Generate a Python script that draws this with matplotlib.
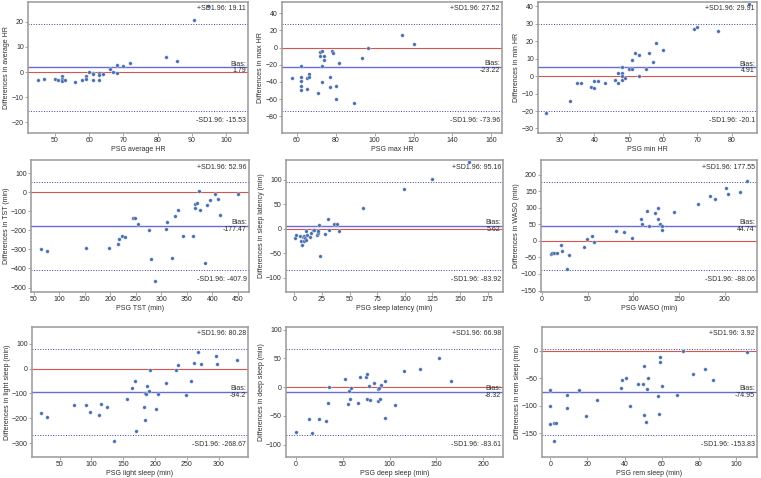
import numpy as np
import matplotlib
matplotlib.use('Agg')
import matplotlib.pyplot as plt

# Bland-Altman style panels: PSG value on x, difference on y
names = ['average HR', 'max HR', 'min HR',
         'TST (min)', 'sleep latency (min)', 'WASO (min)',
         'light sleep (min)', 'deep sleep (min)', 'rem sleep (min)']

bias = [1.79, -23.22, 4.91, -177.47, 5.62, 44.74, -94.2, -8.32, -74.95]
upper = [19.11, 27.52, 29.91, 52.96, 95.16, 177.55, 80.28, 66.98, 3.92]
lower = [-15.53, -73.96, -20.1, -407.9, -83.92, -88.06, -268.67, -83.61, -153.83]

avg_hr_x = [45, 47, 50, 51, 52, 52, 52, 53, 56, 58, 59, 59, 60, 61, 61, 61, 63, 63, 63, 64,
            66, 67, 68, 68, 70, 72, 82.5, 85.5, 90.5, 94.5]
avg_hr_y = [-3.2, -2.6, -2.6, -3.0, -1.5, -2.8, -3.7, -3.3, -4.1, -3.3, -1.5, -2.8, 0, -0.4, -0.9, -3.3,
            -0.4, -1.3, -3.0, -0.7, 1.3, 0.1, 2.9, -0.4, 2.4, 3.4, 6.1, 4.5, 20.7, 26.0]

max_hr_x = [57.3, 62, 62, 62, 62, 62, 65, 65, 66, 66, 70.8, 72, 72, 73, 73, 73, 73.7, 73.7, 76.8, 76.8,
            77.8, 78.7, 80, 80, 81.8, 89.5, 93.3, 96.5, 114, 120]
max_hr_y = [-35.9, -22.0, -34.7, -39.0, -44.8, -49.4, -35.9, -47.9, -30.9, -34.7, -52.9, -5.4, -10.0,
            -4.6, -22.0, -39.8, -9.7, -14.3, -34.0, -45.9, -4.6, -5.8, -44.8, -59.5, -17.8, -64.9,
            -12.7, 0, 14.3, 4.2]

min_hr_x = [26, 33, 35, 36, 39, 40, 40, 41, 43, 46, 47, 47, 48, 48, 48, 48, 49, 50, 51, 51,
            52, 53, 53, 55, 56, 57, 58, 60, 69, 70, 76, 85]
min_hr_y = [-21, -14, -4, -4, -6, -3, -7, -3, -4, -2, 2, -4, 5, 2, 0, -2, -1, 4, 9, 4,
            13, 12, 0, 4, 13, 8, 19, 15, 27, 28, 26, 41]

tst_x = [64, 76, 153, 197, 216, 217, 223, 229, 245, 249, 255, 277, 280, 287, 309, 312, 322, 328,
         333, 343, 363, 366, 367, 371, 375, 376, 385, 389, 395, 405, 412, 415, 450]
tst_y = [-297, -309, -292, -295, -270, -244, -231, -237, -133, -138, -166, -196, -352, -463, -193,
         -157, -346, -127, -92, -230, -228, -60, -81, -57, 4, -92, -371, -65, -41, -9, -34, -118, -11]

lat_x = [0.9, 1.8, 4.8, 6.0, 6.6, 7.5, 8.4, 8.4, 9.3, 10.2, 10.2, 11.1, 13.8, 15.0, 16.5, 17.4,
         20.1, 21.0, 21.3, 22.2, 23.5, 27.4, 30.7, 31.6, 36.1, 38.2, 40.0, 62.5, 99.5, 125, 158]
lat_y = [-19.1, -13.6, -15.0, -25.2, -32.1, -17.1, -15.7, -25.2, -19.1, -4.1, -22.5, -13.0, -17.1,
         -8.9, -2.0, -3.4, -13.0, -8.9, -5.5, 6.8, -55.9, -11.6, 19.8, -2.0, 9.5, 9.5, -4.1, 43.0,
         81.9, 101.6, 135]

waso_x = [9.4, 11.3, 13.1, 16.3, 21.4, 22.1, 26.9, 29.4, 45.7, 49.0, 55.2, 57.4, 80.6, 89.3, 98.7,
          108.5, 108.9, 115.1, 117.6, 123.4, 127.4, 127.4, 129.2, 131.4, 131.4, 144.5, 170.2, 183.3,
          189.5, 201.5, 203.3, 216.3, 224.3]
waso_y = [-39.5, -35.5, -37.5, -37.5, -13.2, -30.4, -85.1, -41.5, -19.3, 4.1, 13.2, -3.0, 29.4, 25.3,
          9.1, 65.9, 51.7, 89.2, 45.6, 84.1, 98.3, 65.9, 50.7, 45.6, 33.4, 88.1, 110.4, 135.8, 126.6,
          158.1, 141.8, 146.9, 181.4]

light_x = [20.8, 30.7, 73.0, 91.8, 97.5, 112.1, 115.8, 125.2, 135.1, 155.4, 163.3, 169.0, 170.6,
           182.6, 184.1, 184.7, 185.7, 187.3, 189.9, 192.0, 201.4, 204.5, 217.5, 233.2, 235.8, 248.3,
           256.7, 260.9, 267.6, 272.3, 296.3, 296.9, 329.2]
light_y = [-177, -196, -148, -148, -173, -185, -141, -155, -291, -124, -79, -49, -251, -155, -205,
           -97, -103, -69, -91, -5, -164, -103, -59, -4, 15, -108, -48, 23, 65, 17, 49, 17, 33]

deep_x = [0, 13.5, 16.7, 24.2, 31.6, 33.7, 35.5, 52.9, 55.4, 56.5, 57.5, 59.3, 66.1, 68.6, 75.3,
          76.0, 76.4, 78.5, 78.9, 83.8, 87.4, 88.1, 89.2, 89.5, 90.9, 95.2, 95.2, 105.9, 115.1, 132.9,
          152.8, 165.9]
deep_y = [-78.4, -55.9, -80.1, -55.3, -59.4, -27.1, 1.2, 15.0, -28.8, -6.9, -20.2, -0.6, -28.2, 18.4,
          17.9, 23.1, -20.2, 2.3, -21.9, 6.9, -2.3, -23.1, -1.2, -20.7, 4.6, 11.5, -54.2, -31.1, 27.7,
          31.1, 50.7, 11.5]

rem_x = [0, 0, 0, 2.0, 2.0, 3.2, 8.9, 8.9, 15.6, 19.3, 25.2, 38.1, 38.6, 40.8, 42.9, 47.4, 50.1,
         50.4, 50.4, 51.5, 52.1, 52.6, 58.1, 58.7, 59.2, 59.2, 60.1, 68.2, 71.6, 76.6, 83.4, 87.5, 105.9]
rem_y = [-72.0, -100.4, -132.5, -131.9, -164.6, -131.3, -80.5, -104.7, -71.4, -119.2, -89.5, -67.2,
         -53.8, -49.6, -100.4, -60.5, -60.5, -28.4, -116.2, -128.9, -69.6, -49.0, -82.3, -114.9, -20.0,
         -11.5, -64.7, -81.1, -1.2, -42.3, -32.7, -52.6, -1.8]

xs = [avg_hr_x, max_hr_x, min_hr_x, tst_x, lat_x, waso_x, light_x, deep_x, rem_x]
ys = [avg_hr_y, max_hr_y, min_hr_y, tst_y, lat_y, waso_y, light_y, deep_y, rem_y]

xlims = [(42.2, 106.3), (52.3, 165.5), (23.6, 87.4),
         (44.8, 472.1), (-7.5, 188.8), (-1.0, 235.2),
         (6.7, 345.9), (-10.7, 221.3), (-4.5, 111.3)]

# axes boxes in pixels: left, top, right, bottom
boxes = [(28, 2, 248, 133), (282, 2, 502, 133), (538, 2, 757, 133),
         (31, 160, 249, 292), (286, 160, 503, 292), (541, 160, 757, 292),
         (32, 327, 248, 457), (286, 327, 503, 457), (542, 327, 757, 457)]

plt.rcParams['font.family'] = ['Liberation Sans', 'DejaVu Sans']
plt.rcParams['font.size'] = 10

W, H = 761, 478
fig = plt.figure(figsize=(W / 50, H / 50), dpi=50)
txt = '#2e2e2e'

for i in range(9):
    l, t, r, b = boxes[i]
    ax = fig.add_axes([l / W, 1 - b / H, (r - l) / W, (b - t) / H])
    ax.scatter(xs[i], ys[i], s=28, color='#4a6fb0', edgecolor='white', linewidth=0.5, zorder=3)
    ax.axhline(0, color='#d9534f', linewidth=1.6, zorder=1)
    ax.axhline(bias[i], color='#6b6bd6', linewidth=2.0, zorder=1)
    ax.axhline(upper[i], color='#3c3caa', linewidth=1.4, linestyle=':', zorder=1)
    ax.axhline(lower[i], color='#3c3caa', linewidth=1.4, linestyle=':', zorder=1)

    half = 1.5 * (upper[i] - bias[i])
    ax.set_ylim(bias[i] - half, bias[i] + half)
    ax.set_xlim(*xlims[i])

    ax.annotate('+SD1.96: {}'.format(upper[i]), xy=(0.99, 0.92), xycoords='axes fraction',
                ha='right', va='bottom', color=txt)
    ax.annotate('-SD1.96: {}'.format(lower[i]), xy=(0.99, 0.07), xycoords='axes fraction',
                ha='right', va='bottom', color=txt)
    ax.annotate('Bias:\n{}'.format(bias[i]), xy=(0.99, bias[i]),
                xycoords=('axes fraction', 'data'), ha='right', va='center',
                multialignment='right', color=txt, linespacing=1.0)

    ax.set_xlabel('PSG ' + names[i], color=txt, labelpad=2)
    ax.set_ylabel('Differences in ' + names[i], color=txt, labelpad=2)
    for s in ax.spines.values():
        s.set_color('#999999')
        s.set_linewidth(2.2)
    ax.tick_params(colors=txt, labelsize=10, length=4, width=1.2, pad=2)
    ax.tick_params(color='#999999')

fig.savefig('out.png', dpi=50)
